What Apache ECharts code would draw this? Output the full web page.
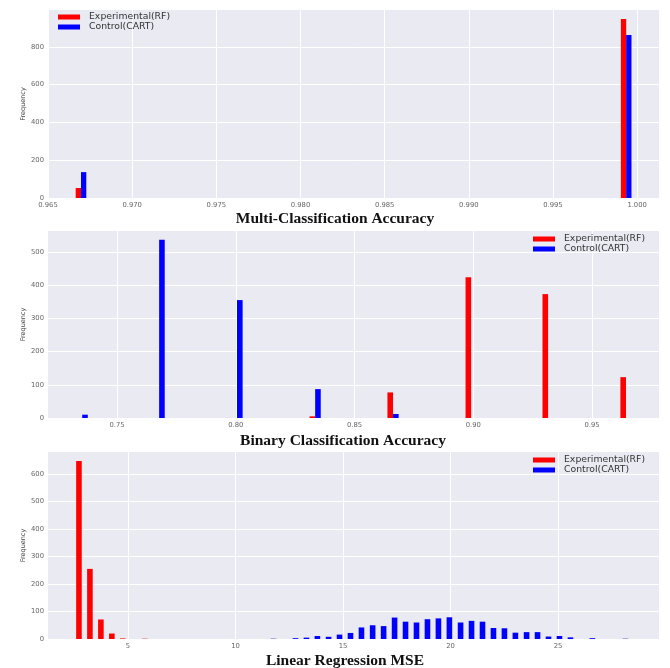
<!DOCTYPE html>
<html><head><meta charset="utf-8">
<script src="https://cdn.jsdelivr.net/npm/echarts@6/dist/echarts.min.js"></script>
<style>html,body{margin:0;padding:0;background:#fff}#c{width:670px;height:668px}</style>
</head><body><div id="c"></div>
<script>
const seriesNames = ['Experimental(RF)', 'Control(CART)'];
const panelTitles = ['Multi-Classification Accuracy', 'Binary Classification Accuracy', 'Linear Regression MSE'];
const yName = 'Frequency';

// Panel 1: Multi-classification accuracy (bin positions and counts)
const multiBins = [0.96696, 0.99935];
const multiRF = [53, 947];
const multiCART = [137, 863];
const multiXTicks = [0.965, 0.970, 0.975, 0.980, 0.985, 0.990, 0.995, 1.000];
const multiYTicks = [0, 200, 400, 600, 800];

// Panel 2: Binary classification accuracy
const binaryBins = [0.7353, 0.7677, 0.8005, 0.8334, 0.8662, 0.8991, 0.9315, 0.9643];
const binaryRF = [0, 0, 0, 5, 77, 424, 373, 123];
const binaryCART = [10, 537, 355, 87, 12, 0, 0, 0];
const binaryXTicks = [0.75, 0.80, 0.85, 0.90, 0.95];
const binaryYTicks = [0, 100, 200, 300, 400, 500];

// Panel 3: Linear regression MSE
const mseBins = [2.85, 3.36, 3.87, 4.38, 4.89, 5.92,
  11.64, 12.66, 13.17, 13.68, 14.20, 14.71, 15.22, 15.73, 16.25, 16.76, 17.27, 17.78, 18.29, 18.80,
  19.31, 19.82, 20.34, 20.85, 21.36, 21.87, 22.38, 22.89, 23.41, 23.92, 24.43, 24.94, 25.45, 26.47, 28.01];
const mseRF = [647, 255, 71, 20, 2, 1,
  0, 0, 0, 0, 0, 0, 0, 0, 0, 0, 0, 0, 0, 0, 0, 0, 0, 0, 0, 0, 0, 0, 0, 0, 0, 0, 0, 0, 0];
const mseCART = [0, 0, 0, 0, 0, 0,
  1, 3, 5, 11, 8, 16, 22, 42, 50, 47, 78, 63, 60, 72, 75, 79, 60, 66, 63, 40, 39, 23, 25, 25, 9, 11, 6, 3, 1];
const mseXTicks = [5, 10, 15, 20, 25];
const mseYTicks = [0, 100, 200, 300, 400, 500, 600];

const RED = '#ff0000', BLUE = '#0000ff';
const SANS = 'DejaVu Sans';

const panels = [
  {bins: multiBins, rf: multiRF, cart: multiCART, xt: multiXTicks, yt: multiYTicks,
   xmin: 0.965, xmax: 1.0013, ymax: 995, top: 10, h: 188, dec: 3, bw: 5.3,
   legend: {left: 58, top: 12}, titleY: 206},
  {bins: binaryBins, rf: binaryRF, cart: binaryCART, xt: binaryXTicks, yt: binaryYTicks,
   xmin: 0.7209, xmax: 0.9782, ymax: 563, top: 231, h: 187, dec: 2, bw: 5.6,
   legend: {left: 533, top: 234}, titleY: 428},
  {bins: mseBins, rf: mseRF, cart: mseCART, xt: mseXTicks, yt: mseYTicks,
   xmin: 1.28, xmax: 29.7, ymax: 680, top: 452, h: 187, dec: 0, bw: 5.6,
   legend: {left: 533, top: 455}, titleY: 648}
];
const titleX = [330, 338, 340];

function makeRender(side, bw) {
  return function (params, api) {
    const x = api.value(0), y = api.value(1);
    const p = api.coord([x, y]);
    const b = api.coord([x, 0]);
    const x0 = side < 0 ? p[0] - bw : p[0];
    return {type: 'rect', shape: {x: x0, y: p[1], width: bw, height: b[1] - p[1]},
      style: {fill: api.visual('color')}};
  };
}

const grid = [], xAxis = [], yAxis = [], series = [], legend = [], title = [];
panels.forEach((P, i) => {
  grid.push({left: 48, right: 11, top: P.top, height: P.h, show: true,
    backgroundColor: '#EAEAF2', borderWidth: 0});
  xAxis.push({type: 'value', gridIndex: i, min: P.xmin, max: P.xmax,
    axisLine: {show: false}, axisTick: {show: false, customValues: P.xt},
    axisLabel: {customValues: P.xt, fontSize: 6.8, color: '#666', margin: 4,
      fontFamily: SANS, formatter: v => Number(v).toFixed(P.dec)},
    splitLine: {show: true, lineStyle: {color: '#ffffff', width: 1}}});
  yAxis.push({type: 'value', gridIndex: i, min: 0, max: P.ymax,
    name: yName, nameLocation: 'middle', nameGap: 21, nameMoveOverlap: false,
    nameTextStyle: {fontSize: 6.5, color: '#444', fontFamily: SANS},
    axisLine: {show: false}, axisTick: {show: false, customValues: P.yt},
    axisLabel: {customValues: P.yt, fontSize: 6.8, color: '#666', margin: 4, fontFamily: SANS},
    splitLine: {show: true, lineStyle: {color: '#ffffff', width: 1}}});
  const rfData = [], cartData = [];
  P.bins.forEach((x, k) => {
    if (P.rf[k] > 0) rfData.push([x, P.rf[k]]);
    if (P.cart[k] > 0) cartData.push([x, P.cart[k]]);
  });
  series.push({type: 'custom', name: seriesNames[0], xAxisIndex: i, yAxisIndex: i,
    itemStyle: {color: RED}, encode: {x: 0, y: 1}, renderItem: makeRender(-1, P.bw), data: rfData, silent: true});
  series.push({type: 'custom', name: seriesNames[1], xAxisIndex: i, yAxisIndex: i,
    itemStyle: {color: BLUE}, encode: {x: 0, y: 1}, renderItem: makeRender(1, P.bw), data: cartData, silent: true});
  legend.push({left: P.legend.left, top: P.legend.top, orient: 'vertical', icon: 'rect',
    itemWidth: 22, itemHeight: 5, itemGap: 0, padding: 0,
    textStyle: {fontSize: 9.3, color: '#333', fontFamily: SANS, lineHeight: 10, padding: [0, 0, 0, 4]},
    data: [{name: seriesNames[0], itemStyle: {color: RED}}, {name: seriesNames[1], itemStyle: {color: BLUE}}]});
  title.push({text: panelTitles[i], left: titleX[i], top: P.titleY, textAlign: 'center',
    textStyle: {fontFamily: 'Liberation Serif', fontWeight: 'bold', fontSize: 15.5, color: '#111'}});
});

const chart = echarts.init(document.getElementById('c'), null, {renderer: 'canvas'});
chart.setOption({animation: false, backgroundColor: '#fff', grid, xAxis, yAxis, series, legend, title});
</script>
</body></html>
